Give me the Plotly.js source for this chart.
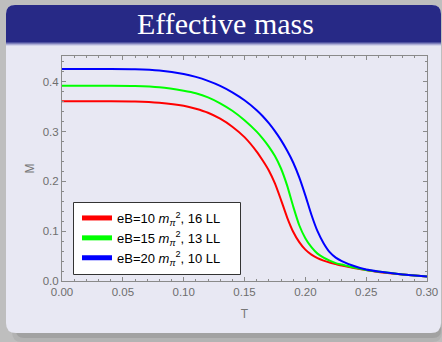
<!DOCTYPE html>
<html>
<head>
<meta charset="utf-8">
<script src="https://cdn.plot.ly/plotly-3.0.1.min.js"></script>
<style>html,body{margin:0;padding:0;background:#bebebe;}#chart{width:442px;height:342px;}</style>
</head>
<body>
<div id="chart"></div>
<script>
// ---- data ----
const T = [0, 0.04, 0.06, 0.08, 0.10, 0.11, 0.12, 0.13, 0.14, 0.15,
           0.16, 0.165, 0.17, 0.175, 0.18, 0.185, 0.19, 0.195, 0.20, 0.205,
           0.21, 0.215, 0.22, 0.225, 0.23, 0.24, 0.25, 0.26, 0.28, 0.30];
const M_eB10 = [0.361, 0.361, 0.3605, 0.358, 0.352, 0.346, 0.338, 0.326, 0.310, 0.289,
                0.260, 0.242, 0.222, 0.196, 0.163, 0.128, 0.099, 0.078, 0.063, 0.053,
                0.046, 0.041, 0.037, 0.034, 0.031, 0.026, 0.022, 0.018, 0.013, 0.009];
const M_eB15 = [0.392, 0.392, 0.3915, 0.389, 0.382, 0.377, 0.369, 0.357, 0.342, 0.323,
                0.300, 0.286, 0.270, 0.251, 0.226, 0.192, 0.150, 0.112, 0.086, 0.068,
                0.055, 0.047, 0.041, 0.036, 0.033, 0.027, 0.022, 0.019, 0.013, 0.009];
const M_eB20 = [0.426, 0.426, 0.4255, 0.423, 0.416, 0.410, 0.402, 0.392, 0.379, 0.363,
                0.343, 0.331, 0.317, 0.301, 0.283, 0.262, 0.238, 0.208, 0.172, 0.133,
                0.100, 0.076, 0.058, 0.047, 0.040, 0.030, 0.023, 0.019, 0.013, 0.009];
const seriesNames = ['eB=10 <i>m</i><sub><i>π</i></sub><sup>2</sup>, 16 LL',
                     'eB=15 <i>m</i><sub><i>π</i></sub><sup>2</sup>, 13 LL',
                     'eB=20 <i>m</i><sub><i>π</i></sub><sup>2</sup>, 10 LL'];
const seriesColors = ['#ff0000', '#00ff00', '#0000ff'];
const xTickVals = [0, 0.05, 0.10, 0.15, 0.20, 0.25, 0.30];
const xTickText = ['0.00', '0.05', '0.10', '0.15', '0.20', '0.25', '0.30'];
const yTickVals = [0, 0.1, 0.2, 0.3, 0.4];
const yTickText = ['0.0', '0.1', '0.2', '0.3', '0.4'];
const slideTitle = 'Effective mass';
const xTitle = 'T';
const yTitle = 'M';

// ---- geometry helpers (pixel -> paper) ----
const W = 442, H = 342, L = 62, R = 427, TOP = 56, BOT = 281;
const px = x => (x - L) / (R - L);
const py = y => (BOT - y) / (BOT - TOP);
function roundRect(x0, y0, x1, y1, rT, rB) {
  return `M ${px(x0)},${py(y0 + rT)} Q ${px(x0)},${py(y0)} ${px(x0 + rT)},${py(y0)} ` +
         `L ${px(x1 - rT)},${py(y0)} Q ${px(x1)},${py(y0)} ${px(x1)},${py(y0 + rT)} ` +
         `L ${px(x1)},${py(y1 - rB)} Q ${px(x1)},${py(y1)} ${px(x1 - rB)},${py(y1)} ` +
         `L ${px(x0 + rB)},${py(y1)} Q ${px(x0)},${py(y1)} ${px(x0)},${py(y1 - rB)} Z`;
}
function rect(x0, y0, x1, y1, color, layer, lineColor) {
  return {type: 'rect', xref: 'paper', yref: 'paper', x0: px(x0), x1: px(x1), y0: py(y1), y1: py(y0),
          fillcolor: color, line: lineColor ? {width: 1, color: lineColor} : {width: 0}, layer: layer || 'below'};
}
function pathShape(d, color) {
  return {type: 'path', xref: 'paper', yref: 'paper', path: d, fillcolor: color, line: {width: 0}, layer: 'below'};
}

const shapes = [
  pathShape(roundRect(12, 318, 442, 342, 10, 10), '#b3b3b3'),
  pathShape(roundRect(16, 322, 441, 338, 8, 8), '#a2a2a2'),
  pathShape(roundRect(6, 5, 441, 333, 9, 10), '#e8e8f3'),
  pathShape(roundRect(6, 5, 441, 42, 9, 0), '#272986'),
  rect(6, 42, 441, 43, '#4f52a0'),
  rect(6, 43, 441, 44, '#7e80bb'),
  rect(6, 44, 441, 45, '#adaed6'),
  rect(6, 45, 441, 46, '#d2d3ea'),
  // legend frame
  rect(73.5, 202.5, 240.5, 274.5, '#ffffff', 'above', '#333333')
];

const allM = [M_eB10, M_eB15, M_eB20];
const traces = [];
allM.forEach((m, i) => {
  traces.push({x: T, y: m, type: 'scatter', mode: 'lines', showlegend: false,
               line: {color: seriesColors[i], width: 2, shape: 'spline', smoothing: 0.6}, hoverinfo: 'skip'});
});
allM.forEach((m, i) => {
  traces.push({x: [null], y: [null], type: 'scatter', mode: 'lines', name: seriesNames[i],
               line: {color: seriesColors[i], width: 5}});
});

const axisCommon = {
  ticks: 'inside', ticklen: 4, tickcolor: '#8a8a8a', tickwidth: 1,
  showline: true, linecolor: '#8a8a8a', linewidth: 1, mirror: 'ticks',
  showgrid: false, zeroline: false,
  tickfont: {family: 'Liberation Sans, Arial, sans-serif', size: 11.5, color: '#6e6e6e'}
};

const layout = {
  width: W, height: H,
  margin: {l: L, r: W - R, t: TOP, b: H - BOT, pad: 0},
  paper_bgcolor: '#bebebe', plot_bgcolor: 'rgba(0,0,0,0)',
  showlegend: true,
  legend: {x: px(77), y: py(203), xanchor: 'left', yanchor: 'top',
           bgcolor: 'rgba(0,0,0,0)', borderwidth: 0,
           font: {family: 'Liberation Sans, Arial, sans-serif', size: 13, color: '#000'},
           tracegroupgap: 0},
  xaxis: Object.assign({}, axisCommon, {
    range: [0, 0.3], tickmode: 'array', tickvals: xTickVals, ticktext: xTickText,
    minor: {tickmode: 'linear', tick0: 0, dtick: 0.01, ticks: 'inside', ticklen: 2, tickcolor: '#8a8a8a', showgrid: false},
    title: {text: xTitle, font: {family: 'Liberation Sans, Arial, sans-serif', size: 12, color: '#777'}, standoff: 12}
  }),
  yaxis: Object.assign({}, axisCommon, {
    range: [0, 0.452], tickmode: 'array', tickvals: yTickVals, ticktext: yTickText,
    minor: {tickmode: 'linear', tick0: 0, dtick: 0.02, ticks: 'inside', ticklen: 2, tickcolor: '#8a8a8a', showgrid: false},
    title: {text: yTitle, font: {family: 'Liberation Sans, Arial, sans-serif', size: 12, color: '#777'}, standoff: 5}
  }),
  shapes: shapes,
  annotations: [{
    text: slideTitle, xref: 'paper', yref: 'paper', x: px(225), y: py(24),
    xanchor: 'center', yanchor: 'middle', showarrow: false,
    font: {family: 'Liberation Serif, DejaVu Serif, serif', size: 30, color: '#ffffff'}
  }]
};

Plotly.newPlot('chart', traces, layout, {displayModeBar: false, staticPlot: true});
</script>
</body>
</html>
